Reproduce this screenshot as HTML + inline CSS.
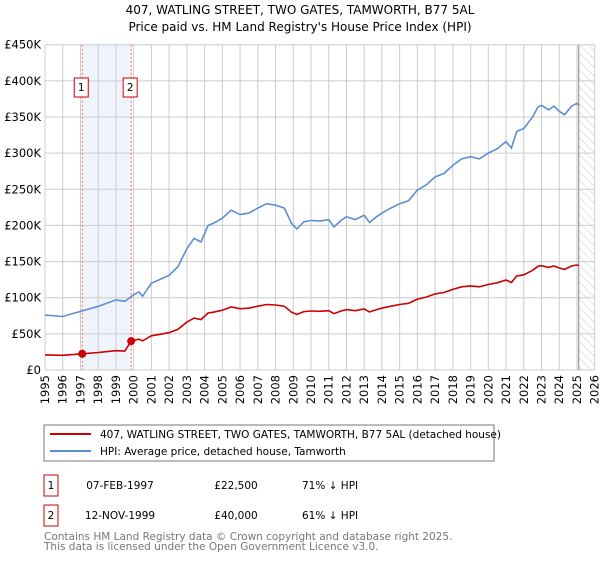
<!DOCTYPE html>
<html><head><meta charset="utf-8"><style>
body{margin:0;background:#fff;width:600px;height:560px;overflow:hidden;font-family:"DejaVu Sans","Liberation Sans",sans-serif}
svg text{font-family:"DejaVu Sans","Liberation Sans",sans-serif}
</style></head><body>
<svg id="c" width="600" height="560">
<defs><pattern id="hatch" width="6" height="6" patternUnits="userSpaceOnUse" patternTransform="rotate(-45)"><line x1="0" y1="0" x2="0" y2="6" stroke="#bbb" stroke-width="0.8"/></pattern></defs>
<text x="300" y="14" text-anchor="middle" font-size="12" fill="#000">407, WATLING STREET, TWO GATES, TAMWORTH, B77 5AL</text>
<text x="300" y="31" text-anchor="middle" font-size="12" fill="#000">Price paid vs. HM Land Registry's House Price Index (HPI)</text>
<g id="grid"></g><g id="marks"></g><g id="axes"></g>
<rect x="44" y="425" width="450" height="36" fill="#fff" stroke="#777"/>
<line x1="50" y1="434" x2="91" y2="434" stroke="#cc0000" stroke-width="2"/>
<text x="100" y="438" font-size="10.5">407, WATLING STREET, TWO GATES, TAMWORTH, B77 5AL (detached house)</text>
<line x1="50" y1="451" x2="91" y2="451" stroke="#5b8ed6" stroke-width="2"/>
<text x="100" y="455" font-size="10.5">HPI: Average price, detached house, Tamworth</text>
<g font-size="10.5">
<rect x="44" y="475" width="14" height="21" fill="none" stroke="#cc0000"/>
<text x="51" y="489" text-anchor="middle">1</text>
<text x="120" y="489" text-anchor="middle">07-FEB-1997</text>
<text x="236" y="489" text-anchor="middle">£22,500</text>
<text x="302" y="489">71% ↓ HPI</text>
<rect x="44" y="505" width="14" height="21" fill="none" stroke="#cc0000"/>
<text x="51" y="519" text-anchor="middle">2</text>
<text x="120" y="519" text-anchor="middle">12-NOV-1999</text>
<text x="236" y="519" text-anchor="middle">£40,000</text>
<text x="302" y="519">61% ↓ HPI</text>
</g>
<text x="44" y="540" font-size="10.5" fill="#777">Contains HM Land Registry data © Crown copyright and database right 2025.</text>
<text x="44" y="550" font-size="10.5" fill="#777">This data is licensed under the Open Government Licence v3.0.</text>
</svg>
<script>
const hpiYears=[1995,1996,1997,1998,1999,1999.5,2000,2000.3,2000.5,2001,2002,2002.5,2003,2003.4,2003.8,2004.2,2004.5,2005,2005.5,2006,2006.5,2007,2007.5,2008,2008.5,2008.9,2009.2,2009.6,2010,2010.5,2011,2011.3,2011.7,2012,2012.5,2013,2013.3,2013.7,2014,2014.5,2015,2015.5,2016,2016.5,2017,2017.5,2018,2018.5,2019,2019.5,2020,2020.5,2021,2021.3,2021.6,2022,2022.5,2022.8,2023,2023.4,2023.7,2024,2024.3,2024.7,2025,2025.1];
const hpiValues=[76,74,81,88,97,95,104,108,102,120,131,143,168,182,177,200,203,210,221,215,217,224,230,228,224,203,195,205,207,206,208,198,207,212,208,214,204,212,217,224,230,234,249,256,267,272,283,292,295,292,300,306,316,307,330,334,350,364,366,360,365,358,353,365,369,366];
const saleYears=[1997.1,1999.86];
const salePrices=[22500,40000];
const yTicks=[0,50,100,150,200,250,300,350,400,450];
const yTickLabels=["£0","£50K","£100K","£150K","£200K","£250K","£300K","£350K","£400K","£450K"];
const xTicks=[1995,1996,1997,1998,1999,2000,2001,2002,2003,2004,2005,2006,2007,2008,2009,2010,2011,2012,2013,2014,2015,2016,2017,2018,2019,2020,2021,2022,2023,2024,2025,2026];
const NS="http://www.w3.org/2000/svg";
const L=45,R=594.7,T=44.7,B=370;
const xs=y=>L+(y-1995)/31*(R-L);
const ys=v=>B-v/450*(B-T);
function el(tag,attrs,parent){const e=document.createElementNS(NS,tag);for(const k in attrs)e.setAttribute(k,attrs[k]);parent.appendChild(e);return e;}
const grid=document.getElementById('grid'),marks=document.getElementById('marks'),axes=document.getElementById('axes');
el('rect',{x:L,y:T,width:R-L,height:B-T,fill:'#fff'},grid);
const band=el('rect',{x:xs(saleYears[0]),y:T,width:xs(saleYears[1])-xs(saleYears[0]),height:B-T,fill:'#eef3fc'},grid);


const hat=el('rect',{x:xs(2025.1),y:T,width:R-xs(2025.1),height:B-T,fill:'url(#hatch)'},grid);


yTicks.forEach((v,i)=>{
 el('line',{x1:L,x2:R,y1:ys(v),y2:ys(v),stroke:'#ccc','stroke-width':1},grid);
 const t=el('text',{x:L-4,y:ys(v)+4,'text-anchor':'end','font-size':'11.5'},axes);t.textContent=yTickLabels[i];
 
 
});
xTicks.forEach(y=>{
 el('line',{x1:xs(y),x2:xs(y),y1:T,y2:B,stroke:'#ccc','stroke-width':1},grid);
 const t=el('text',{x:0,y:0,'text-anchor':'end','font-size':'11.5',transform:`translate(${xs(y)+4},${B+5}) rotate(-90)`},axes);t.textContent=y;
 
 
});
el('line',{x1:xs(2025.1),x2:xs(2025.1),y1:T,y2:B,stroke:'#888','stroke-width':1},marks);
saleYears.forEach((y,i)=>{
 el('line',{x1:xs(y),x2:xs(y),y1:T,y2:B,stroke:'#e66','stroke-width':1,'stroke-dasharray':'2,2'},marks);
 const bx=el('rect',{x:xs(y)-8,y:78,width:14,height:19,fill:'#fff',stroke:'#cc0000'},marks);
 
 
 const t=el('text',{x:xs(y)-1,y:91,'text-anchor':'middle','font-size':'10.5'},marks);t.textContent=i+1;
});
function hpiAt(y){for(let i=1;i<hpiYears.length;i++){if(y<=hpiYears[i]){const f=(y-hpiYears[i-1])/(hpiYears[i]-hpiYears[i-1]);return hpiValues[i-1]+f*(hpiValues[i]-hpiValues[i-1]);}}return hpiValues[hpiValues.length-1];}
const r1=salePrices[0]/1000/hpiAt(saleYears[0]),r2=salePrices[1]/1000/hpiAt(saleYears[1]);
let hp='',rp='';
hpiYears.forEach((y,i)=>{hp+=(i?'L':'M')+xs(y).toFixed(1)+','+ys(hpiValues[i]).toFixed(1);});
const redPts=[];
hpiYears.forEach((y,i)=>{if(y<saleYears[1])redPts.push([y,hpiValues[i]*r1]);});
redPts.push([saleYears[1],salePrices[1]/1000]);
hpiYears.forEach((y,i)=>{if(y>saleYears[1])redPts.push([y,hpiValues[i]*r2]);});
redPts.sort((a,b)=>a[0]-b[0]);
redPts.forEach((p,i)=>{rp+=(i?'L':'M')+xs(p[0]).toFixed(1)+','+ys(p[1]).toFixed(1);});
const hl=el('path',{d:hp,fill:'none',stroke:'#5b8ed6','stroke-width':1.6},marks);


const rl=el('path',{d:rp,fill:'none',stroke:'#cc0000','stroke-width':1.6},marks);


saleYears.forEach((y,i)=>{
 const c=el('circle',{cx:xs(y),cy:ys(salePrices[i]/1000),r:4,fill:'#cc0000'},marks);
 
 
});
</script>
</body></html>
